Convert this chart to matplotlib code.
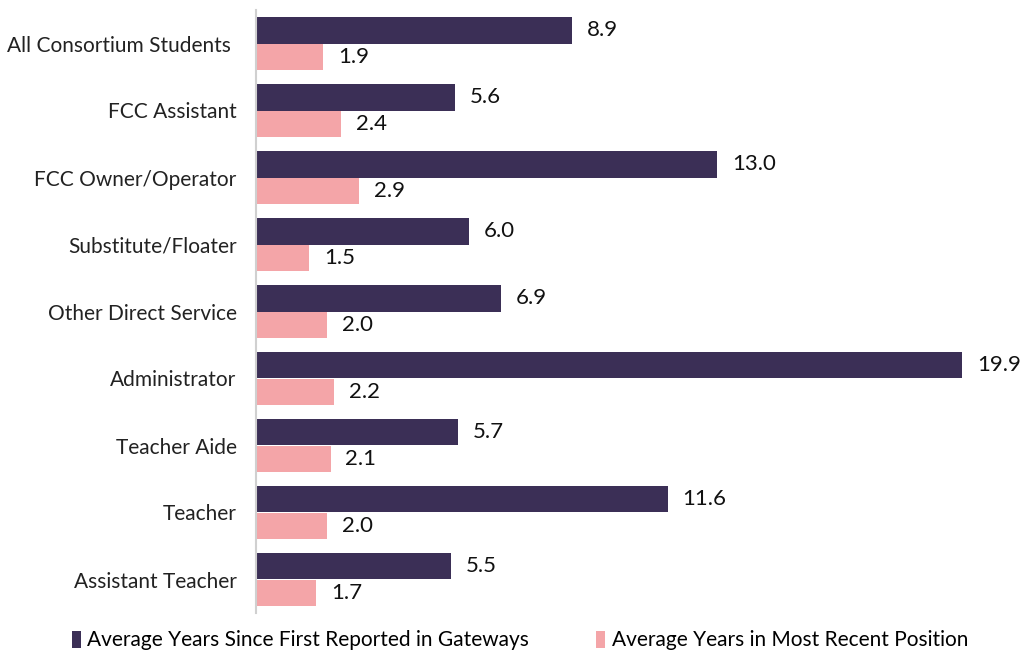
import matplotlib.pyplot as plt
import numpy as np

plt.rcParams['font.family'] = ['Lato', 'DejaVu Sans']

categories = ["All Consortium Students ", "FCC Assistant", "FCC Owner/Operator",
              "Substitute/Floater", "Other Direct Service", "Administrator",
              "Teacher Aide", "Teacher", "Assistant Teacher"]
years_since_first = [8.9, 5.6, 13.0, 6.0, 6.9, 19.9, 5.7, 11.6, 5.5]
years_recent = [1.9, 2.4, 2.9, 1.5, 2.0, 2.2, 2.1, 2.0, 1.7]
series_names = ["Average Years Since First Reported in Gateways",
                "Average Years in Most Recent Position"]

navy = "#3b2f56"
pink = "#f4a5a8"

fig = plt.figure(figsize=(10.21, 6.51), dpi=100)
ax = fig.add_axes([256/1021, 38/651, (1019-256)/1021, 603/651])

y = np.arange(len(categories))
h = 0.39
b1 = ax.barh(y - h/2, years_since_first, height=h, color=navy, label=series_names[0])
b2 = ax.barh(y + h/2, years_recent, height=h, color=pink, label=series_names[1])

for bars, vals in [(b1, years_since_first), (b2, years_recent)]:
    for bar, v in zip(bars, vals):
        ax.text(bar.get_width() + 0.42, bar.get_y() + bar.get_height()/2, f"{v:.1f}",
                va="center", ha="left", fontsize=16, color="#111111")

ax.set_yticks(y)
ax.set_yticklabels(categories, fontsize=15, color="#222222")
ax.tick_params(axis="y", length=0, pad=14)
ax.set_ylim(len(categories) - 0.5, -0.5)
ax.set_xlim(0, 21.5)
ax.set_xticks([])
for s in ["top", "right", "bottom"]:
    ax.spines[s].set_visible(False)
ax.spines["left"].set_color("#d0d0d0")
ax.spines["left"].set_linewidth(1.5)

fig.legend(handles=[b1, b2], loc="lower left", bbox_to_anchor=(53/1021, -0.028), ncol=2,
           frameon=False, fontsize=15, handlelength=0.45, handleheight=0.85,
           handletextpad=0.3, columnspacing=3.2)

fig.savefig("out.png", dpi=100)
